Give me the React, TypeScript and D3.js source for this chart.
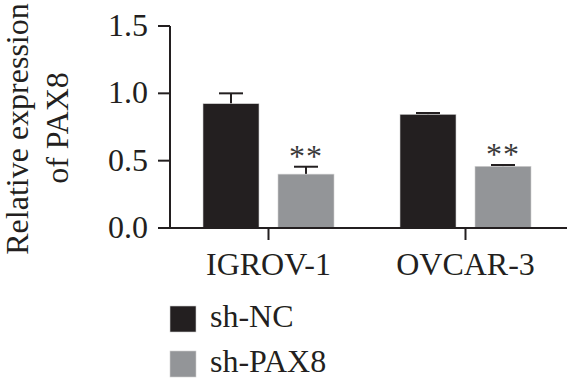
import React from 'react';
import * as d3 from 'd3';

const categories = ['IGROV-1', 'OVCAR-3'];
const series = ['sh-NC', 'sh-PAX8'];
const shNC = [0.923, 0.844];
const shNCErr = [0.077, 0.01];
const shPAX8 = [0.4, 0.458];
const shPAX8Err = [0.055, 0.01];
const yTicks = [0, 0.5, 1.0, 1.5];

const colors = ['#231f20', '#939598'];
const font = '"Liberation Serif", "DejaVu Serif", serif';
const fs = 32;

export default function App() {
    const width = 567;
    const height = 384;

    const x0 = d3.scaleBand().domain(categories).range([170, 564]);
    const x1 = d3.scaleBand().domain(series).range([-65.5, 65.5]).paddingInner(0.2533);
    const y = d3.scaleLinear().domain([0, 1.5]).range([228, 26]);

    const values = [shNC, shPAX8];
    const errs = [shNCErr, shPAX8Err];
    // significance marks only over the knockdown bars
    const marks = [categories.map(() => ''), categories.map(() => '**')];

    return (
        <svg width={width} height={height}
             style={{position: 'absolute', left: 0, top: 0, background: '#fff'}}
             fontFamily={font}>
            {/* y axis title */}
            <g transform={`translate(28, 129) rotate(-90)`}>
                <text textAnchor="middle" fontSize={fs} fill="#231f20">Relative expression</text>
            </g>
            <g transform={`translate(68, 128) rotate(-90)`}>
                <text textAnchor="middle" fontSize={fs} fill="#231f20">of PAX8</text>
            </g>

            {/* bars */}
            {categories.map((c, ci) => (
                <g key={c} transform={`translate(${x0(c)! + x0.bandwidth() / 2}, 0)`}>
                    {series.map((s, si) => {
                        const v = values[si][ci];
                        const e = errs[si][ci];
                        const bx = x1(s)!;
                        const bw = x1.bandwidth();
                        const cx = bx + bw / 2;
                        return (
                            <g key={s}>
                                <line x1={cx} x2={cx} y1={y(v)} y2={y(v + e)} stroke="#231f20" strokeWidth={2}/>
                                <line x1={cx - 12} x2={cx + 12} y1={y(v + e)} y2={y(v + e)} stroke="#231f20" strokeWidth={2}/>
                                <rect x={bx} y={y(v)} width={bw} height={y(0) - y(v)} fill={colors[si]}
                                      stroke="#d0d0d0" strokeWidth={0.6}/>
                                {marks[si][ci] && (
                                    <text x={cx} y={y(v + e)} textAnchor="middle" fontSize={fs}
                                          letterSpacing={1} fill="#3a3a3a">{marks[si][ci]}</text>
                                )}
                            </g>
                        );
                    })}
                </g>
            ))}

            {/* y axis */}
            <line x1={170} x2={170} y1={y(1.5)} y2={y(0)} stroke="#231f20" strokeWidth={2}/>
            {yTicks.map(t => (
                <g key={t}>
                    <line x1={158} x2={170} y1={y(t)} y2={y(t)} stroke="#231f20" strokeWidth={2}/>
                    <text x={148} y={y(t) + 10} textAnchor="end" fontSize={fs} fill="#231f20">{t.toFixed(1)}</text>
                </g>
            ))}

            {/* x axis */}
            <line x1={158} x2={567} y1={y(0)} y2={y(0)} stroke="#231f20" strokeWidth={2}/>
            {categories.map(c => {
                const cx = x0(c)! + x0.bandwidth() / 2;
                return (
                    <g key={c}>
                        <line x1={cx} x2={cx} y1={y(0)} y2={y(0) + 12} stroke="#231f20" strokeWidth={2}/>
                        <text x={cx} y={275} textAnchor="middle" fontSize={fs} fill="#231f20">{c}</text>
                    </g>
                );
            })}

            {/* legend */}
            {series.map((s, si) => (
                <g key={s} transform={`translate(170, ${306 + si * 45})`}>
                    <rect width={26} height={26} fill={colors[si]} stroke="#d0d0d0" strokeWidth={0.6}/>
                    <text x={40} y={21} fontSize={fs} fill="#231f20">{s}</text>
                </g>
            ))}
        </svg>
    );
}
